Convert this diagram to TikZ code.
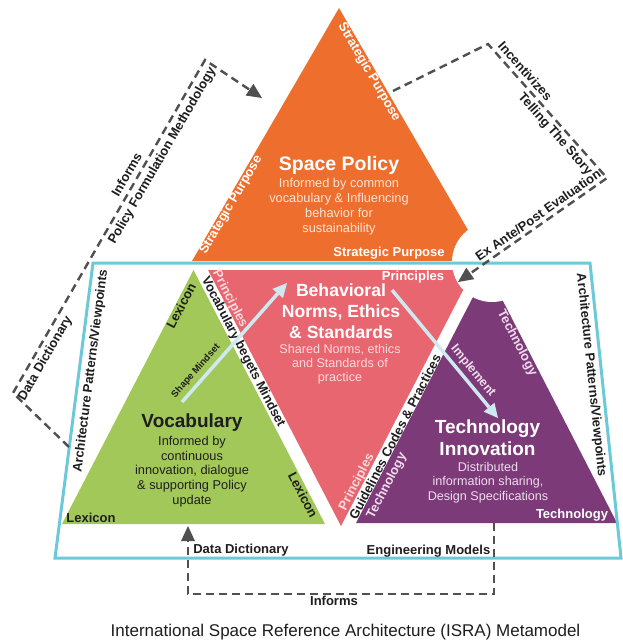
\documentclass[tikz,border=0pt]{standalone}
\usepackage{fontspec}
\setmainfont{Liberation Sans}
\usetikzlibrary{arrows.meta}
\definecolor{cOrange}{HTML}{EE6F2D}
\definecolor{cPink}{HTML}{E8666F}
\definecolor{cGreen}{HTML}{A3C85A}
\definecolor{cPurple}{HTML}{7D3A78}
\definecolor{cFrame}{HTML}{6CCAD8}
\definecolor{cArrow}{HTML}{CFE9F1}
\definecolor{cDash}{HTML}{505050}
\definecolor{cSubOr}{HTML}{FCE4D6}
\definecolor{cSubPk}{HTML}{FBDADD}
\definecolor{cSubPu}{HTML}{EEDCEC}
\definecolor{cText}{HTML}{1E1E1E}
\begin{document}
\begin{tikzpicture}[x=1pt,y=-1pt,
  lbl/.style={font=\fontsize{13}{15}\selectfont\bfseries, text=cText, inner sep=0pt},
  wlbl/.style={lbl, text=white},
  pklbl/.style={lbl, text=cSubPk},
  pulbl/.style={lbl, text=cSubPu},
  bigtitle/.style={font=\fontsize{19.5}{22}\selectfont\bfseries, inner sep=0pt, align=center},
  subtxt/.style={font=\fontsize{12.8}{14.8}\selectfont, inner sep=0pt, align=center},
  dashline/.style={draw=cDash, line width=2.4pt, dash pattern=on 8pt off 5pt,
                   -{Triangle[length=15pt,width=14pt,fill=cDash,line width=0pt]}},
  lightarrow/.style={draw=cArrow, line width=3.5pt,
                   -{Triangle[length=14pt,width=14pt,fill=cArrow,line width=0pt]}},
]
\path[use as bounding box, fill=white] (0,0) rectangle (622,643);

% triangles
\fill[cOrange] (339,8) -- (192,261) -- (486,261) -- cycle;
\fill[cGreen] (193.5,270) -- (62,524) -- (325,524) -- cycle;
\fill[cPink] (208,270) -- (473.5,270) -- (341,526) -- cycle;
\fill[cPurple] (487,270) -- (356,523) -- (617,523) -- cycle;
% notch
\fill[white] (492,262) circle[radius=40pt];

% frame
\draw[cFrame, line width=3pt, line join=miter] (93,263) -- (590,263) -- (621,558) -- (55,558) -- cycle;

% orange texts
\node[wlbl, rotate=-59.7] (sp1) at (369,72) {Strategic Purpose};
\node[wlbl, rotate=59.7] (sp2) at (231,205) {Strategic Purpose};
\node[wlbl] (sp3) at (389,253) {Strategic Purpose};
\node[bigtitle, text=white] (policy) at (339,165) {Space Policy};
\node[subtxt, text=cSubOr, font=\fontsize{12.8}{15}\selectfont] (policysub) at (339,206.5)
  {Informed by common\\vocabulary \& Influencing\\behavior for\\sustainability};

% green texts
\node[lbl, rotate=62.6] (lx1) at (181,306) {Lexicon};
\node[lbl, rotate=-62.6] (lx2) at (303,495) {Lexicon};
\node[lbl] (lx3) at (91,518) {Lexicon};
\node[bigtitle, text=cText, font=\fontsize{19}{22}\selectfont\bfseries] (vocab) at (192,423) {Vocabulary};
\node[subtxt, text=cText] (vocabsub) at (192,471.5)
  {Informed by\\continuous\\innovation, dialogue\\\& supporting Policy\\update};

% pink texts
\node[pklbl, rotate=-62.6] (pr1) at (230,299) {Principles};
\node[wlbl] (pr2) at (413,277) {Principles};
\node[pklbl, rotate=62.6] (pr3) at (357,482) {Principles};
\node[bigtitle, text=white, font=\fontsize{17.6}{21}\selectfont\bfseries] (norms) at (341,311)
  {Behavioral\\Norms, Ethics\\\& Standards};
\node[subtxt, text=cSubPk, font=\fontsize{12.6}{14}\selectfont] (normssub) at (340,364.5)
  {Shared Norms, ethics\\and Standards of\\practice};

% gap labels
\node[lbl, rotate=-62.6] (vbm) at (243,352) {Vocabulary begets Mindset};
\node[lbl, rotate=62.6] (gcp) at (395,437) {Guidelines Codes \& Practices};

% purple texts
\node[pulbl, rotate=-62.6] (te1) at (517,343) {Technology};
\node[pulbl, rotate=62.6] (te2) at (387,486) {Technology};
\node[wlbl] (te3) at (572,515) {Technology};
\node[bigtitle, text=white, font=\fontsize{19}{22}\selectfont\bfseries] (techinno) at (487.5,438)
  {Technology\\Innovation};
\node[subtxt, text=cSubPu, font=\fontsize{12.6}{14.5}\selectfont] (techsub) at (488,482.5)
  {Distributed\\information sharing,\\Design Specifications};

% light arrows
\coordinate (a1s) at (182,402);
\coordinate (a1e) at (287,283);
\coordinate (a2s) at (392,290);
\coordinate (a2e) at (498,418);
\draw[lightarrow] (a1s) -- (a1e);
\draw[lightarrow] (a2s) -- (a2e);
\node[lbl, font=\fontsize{9.6}{11}\selectfont\bfseries, rotate=48.6] (shape) at (196,371) {Shape Mindset};
\node[pulbl, font=\fontsize{12.5}{14}\selectfont\bfseries, rotate=-50.4] (impl) at (473,371) {Implement};

% frame side labels
\node[lbl, rotate=82.7] (apv1) at (91,371) {Architecture Patterns/Viewpoints};
\node[lbl, rotate=-84] (apv2) at (591,375) {Architecture Patterns/Viewpoints};

% left dashed connector
\coordinate (L0) at (69,447);
\coordinate (L1) at (13,393);
\coordinate (L2) at (205,60);
\coordinate (L3) at (262,98);
\draw[dashline] (L0) -- (L1) -- (L2) -- (L3);
\node[lbl, rotate=60] (inf1) at (126.5,174.3) {Informs};
\node[lbl, rotate=60] (pfm) at (162.4,156) {Policy Formulation Methodology};
\node[lbl, rotate=60] (dd1) at (45.6,358.5) {Data Dictionary};

% right dashed connector
\coordinate (R0) at (393,91);
\coordinate (R1) at (488,44);
\coordinate (R2) at (607,178);
\coordinate (R3) at (458,282);
\draw[dashline] (R0) -- (R1) -- (R2) -- (R3);
\node[lbl, rotate=-48.4] (inc) at (525.4,71.1) {Incentivizes};
\node[lbl, rotate=-48.4] (tts) at (554.9,134.4) {Telling The Story};
\node[lbl, rotate=34.9] (eape) at (538,215.3) {Ex Ante/Post Evaluation};

% bottom dashed connector
\coordinate (B0) at (494,523);
\coordinate (B1) at (494,594);
\coordinate (B2) at (188,594);
\coordinate (B3) at (188,526);
\draw[dashline] (B0) -- (B1) -- (B2) -- (B3);
\node[lbl] (dd2) at (241,550) {Data Dictionary};
\node[lbl] (em) at (428.5,551) {Engineering Models};
\node[lbl] (inf2) at (334,601) {Informs};

% caption
\node[font=\fontsize{17}{20}\selectfont, text=cText, inner sep=0pt] (caption) at (345.5,632)
  {International Space Reference Architecture (ISRA) Metamodel};
\end{tikzpicture}
\end{document}
